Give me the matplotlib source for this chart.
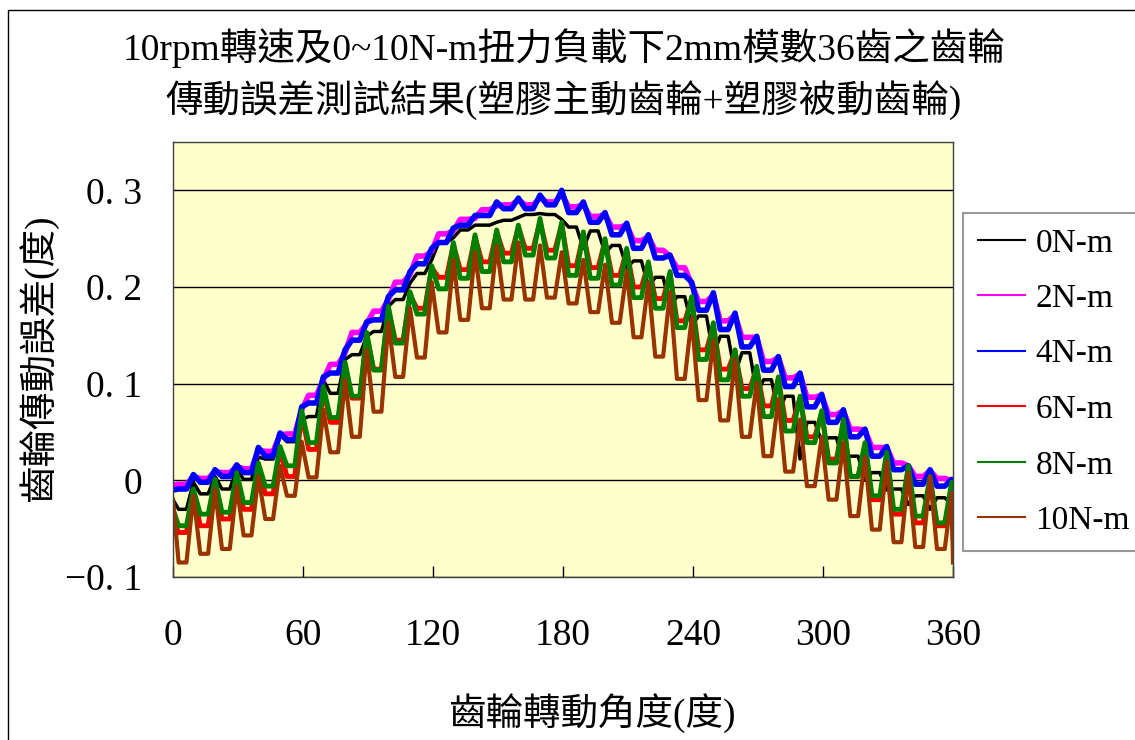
import numpy as np
import matplotlib.pyplot as plt
from matplotlib.patches import Rectangle

plt.rcParams['font.family'] = ['Liberation Serif', 'Noto Sans CJK TC']

title_lines = ['10rpm轉速及0~10N-m扭力負載下2mm模數36齒之齒輪',
               '傳動誤差測試結果(塑膠主動齒輪+塑膠被動齒輪)']
x_label = '齒輪轉動角度(度)'
y_label = '齒輪傳動誤差(度)'
x_ticks = [0, 60, 120, 180, 240, 300, 360]
y_ticks = [-0.1, 0, 0.1, 0.2, 0.3]
y_tick_labels = ['\u22120. 1', '0', '0. 1', '0. 2', '0. 3']
labels = ['0N-m', '2N-m', '4N-m', '6N-m', '8N-m', '10N-m']
colors = ['#000000', '#FF00FF', '#0000FF', '#FF0000', '#008000', '#993300']

# 36 teeth, 10 deg pitch. For each load: value at 0 deg, value in the middle
# of every tooth, value at every tooth edge (~9.4 deg into the tooth), value at 360 deg
start_vals = [-0.02, -0.005, -0.01, -0.04, -0.03, -0.02]
end_vals = [-0.025, -0.015, -0.02, -0.06, -0.05, -0.085]

mid_0 = [-0.03, -0.014, -0.009, 0.001, 0.022, 0.04, 0.066, 0.09, 0.13, 0.154, 0.187, 0.214,
         0.246, 0.259, 0.264, 0.269, 0.275, 0.275, 0.262, 0.258, 0.243, 0.227, 0.21, 0.19,
         0.17, 0.149, 0.132, 0.104, 0.087, 0.06, 0.044, 0.025, 0.008, -0.009, -0.016, -0.018]
edge_0 = [-0.002, 0.004, 0.011, 0.024, 0.047, 0.063, 0.104, 0.125, 0.149, 0.18, 0.204, 0.228,
          0.251, 0.264, 0.267, 0.272, 0.276, 0.27, 0.24, 0.235, 0.22, 0.2, 0.18, 0.16,
          0.13, 0.11, 0.09, 0.07, 0.022, 0.04, 0.02, 0.0, -0.01, -0.025, -0.03, -0.025]

mid_2 = [-0.004, 0.002, 0.008, 0.012, 0.03, 0.048, 0.088, 0.12, 0.153, 0.175, 0.205, 0.232,
         0.255, 0.27, 0.28, 0.285, 0.285, 0.288, 0.283, 0.273, 0.262, 0.248, 0.238, 0.22,
         0.185, 0.165, 0.148, 0.123, 0.106, 0.086, 0.068, 0.053, 0.034, 0.018, 0.004, 0.002]
edge_2 = [0.004, 0.009, 0.014, 0.031, 0.047, 0.073, 0.104, 0.132, 0.162, 0.187, 0.213, 0.237,
          0.258, 0.271, 0.284, 0.29, 0.292, 0.296, 0.285, 0.275, 0.264, 0.252, 0.232, 0.203,
          0.192, 0.171, 0.148, 0.127, 0.11, 0.088, 0.072, 0.052, 0.034, 0.015, 0.01, 0.0]

mid_4 = [-0.009, -0.002, 0.004, 0.008, 0.025, 0.042, 0.08, 0.111, 0.145, 0.166, 0.197, 0.224,
         0.246, 0.264, 0.274, 0.281, 0.281, 0.285, 0.277, 0.267, 0.254, 0.24, 0.23, 0.212,
         0.176, 0.156, 0.138, 0.114, 0.097, 0.076, 0.06, 0.045, 0.025, 0.011, -0.004, -0.006]
edge_4 = [0.006, 0.011, 0.016, 0.034, 0.049, 0.076, 0.107, 0.135, 0.164, 0.19, 0.216, 0.24,
          0.261, 0.274, 0.288, 0.292, 0.295, 0.3, 0.288, 0.277, 0.266, 0.254, 0.233, 0.205,
          0.194, 0.173, 0.149, 0.128, 0.111, 0.089, 0.073, 0.053, 0.035, 0.015, 0.011, 0.001]

mid_6 = [-0.054, -0.047, -0.04, -0.03, -0.014, 0.004, 0.032, 0.06, 0.085, 0.115, 0.145, 0.178,
         0.21, 0.218, 0.226, 0.235, 0.24, 0.238, 0.222, 0.22, 0.212, 0.2, 0.188, 0.165,
         0.135, 0.115, 0.095, 0.077, 0.062, 0.045, 0.022, 0.004, -0.02, -0.035, -0.044, -0.047]
edge_6 = [-0.012, -0.002, 0.005, 0.015, 0.032, 0.068, 0.094, 0.12, 0.15, 0.177, 0.192, 0.22,
          0.244, 0.252, 0.257, 0.262, 0.268, 0.265, 0.255, 0.248, 0.238, 0.224, 0.214, 0.188,
          0.16, 0.133, 0.116, 0.105, 0.085, 0.07, 0.06, 0.036, 0.026, 0.012, 0.001, -0.005]

mid_8 = [-0.047, -0.035, -0.033, -0.023, -0.006, 0.015, 0.039, 0.065, 0.087, 0.114, 0.142, 0.172,
         0.198, 0.209, 0.216, 0.226, 0.233, 0.23, 0.212, 0.209, 0.202, 0.189, 0.178, 0.158,
         0.125, 0.104, 0.087, 0.066, 0.051, 0.039, 0.018, 0.004, -0.016, -0.03, -0.037, -0.044]
edge_8 = [-0.009, 0.001, 0.008, 0.018, 0.035, 0.072, 0.097, 0.122, 0.153, 0.18, 0.195, 0.222,
          0.246, 0.254, 0.259, 0.264, 0.271, 0.267, 0.257, 0.25, 0.24, 0.226, 0.216, 0.19,
          0.163, 0.135, 0.118, 0.107, 0.087, 0.072, 0.063, 0.039, 0.029, 0.015, 0.004, -0.002]

mid_10 = [-0.085, -0.076, -0.071, -0.057, -0.04, -0.016, 0.003, 0.029, 0.045, 0.071, 0.107, 0.127,
          0.153, 0.166, 0.178, 0.187, 0.187, 0.189, 0.183, 0.174, 0.163, 0.148, 0.128, 0.105,
          0.083, 0.062, 0.045, 0.025, 0.009, -0.006, -0.02, -0.037, -0.051, -0.064, -0.069, -0.071]
edge_10 = [-0.016, -0.009, -0.006, 0.004, 0.015, 0.04, 0.073, 0.104, 0.135, 0.163, 0.178, 0.205,
           0.228, 0.236, 0.243, 0.246, 0.243, 0.236, 0.228, 0.223, 0.217, 0.205, 0.195, 0.168,
           0.145, 0.125, 0.101, 0.084, 0.063, 0.045, 0.039, 0.024, 0.019, 0.008, 0.004, -0.013]

mids = [mid_0, mid_2, mid_4, mid_6, mid_8, mid_10]
edges = [edge_0, edge_2, edge_4, edge_6, edge_8, edge_10]
widths = [2.5, 4, 4, 3.5, 3.5, 3]


def tooth_path(start, mid, edge, end):
    # each tooth: mid value held across the tooth bottom, then the edge spike
    x, y = [0.0], [start]
    for k in range(len(mid)):
        t = 10 * k
        x += [t + 2.6, t + 6.2, t + 9.4]
        y += [mid[k], mid[k], edge[k]]
    x.append(360.0)
    y.append(end)
    return x, y


fig = plt.figure(figsize=(11.35, 7.4), dpi=100)
ax = fig.add_axes([173 / 1135, 1 - 577 / 740, 780 / 1135, 435 / 740])
ax.set_facecolor('#FFFFCC')

for i in range(len(labels)):
    x, y = tooth_path(start_vals[i], mids[i], edges[i], end_vals[i])
    ax.plot(x, y, color=colors[i], lw=widths[i], label=labels[i])

ax.set_xlim(0, 360)
ax.set_ylim(-0.1, 0.35)
ax.set_xticks(x_ticks)
ax.set_yticks(y_ticks)
ax.set_yticklabels(y_tick_labels)
ax.yaxis.grid(True, color='black', lw=1)
ax.set_axisbelow(True)
ax.tick_params(axis='x', direction='in', length=8, width=1, pad=30, labelsize=27)
ax.tick_params(axis='y', length=0, pad=22, labelsize=27)
for s in ax.spines.values():
    s.set_color('#404040')
    s.set_linewidth(1)

for i, line in enumerate(title_lines):
    fig.text(564 / 1135, 1 - (48 + 52 * i) / 740, line, ha='center', va='center', fontsize=27)
fig.text(592 / 1135, 1 - 713 / 740, x_label, ha='center', va='center', fontsize=27)
fig.text(38 / 1135, 1 - 358 / 740, y_label, ha='center', va='center', rotation=90, fontsize=27)

leg = ax.legend(loc='upper left', bbox_to_anchor=(963 / 1135, 1 - 213 / 740),
                bbox_transform=fig.transFigure, fontsize=24, frameon=True, fancybox=False,
                edgecolor='#808080', handlelength=1.42, handletextpad=0.3, labelspacing=0.75,
                borderpad=0.45, borderaxespad=0)
leg.get_frame().set_linewidth(1.5)
for h in leg.get_lines():
    h.set_linewidth(1.5)

fig.add_artist(Rectangle((8 / 1135, -0.05), 1.1, 1.05 - 10 / 740, transform=fig.transFigure,
                         fill=False, ec='black', lw=1))

fig.savefig('out.png', dpi=100)
